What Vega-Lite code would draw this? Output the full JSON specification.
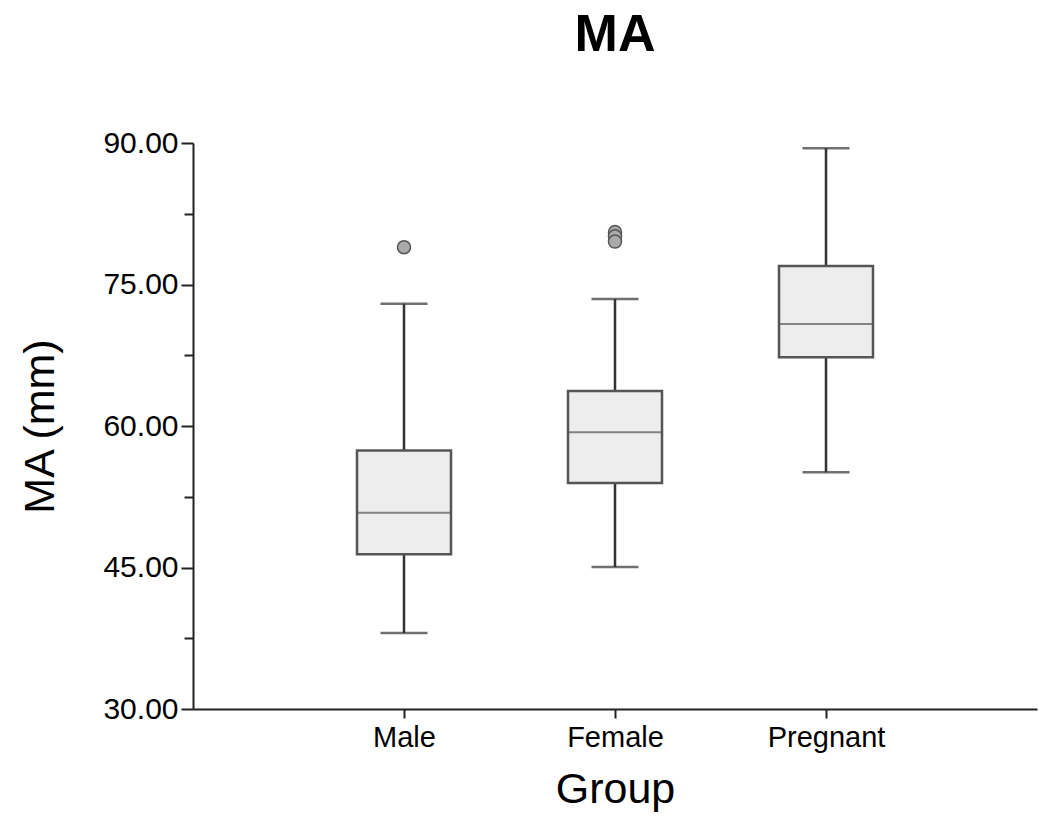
{
  "$schema": "https://vega.github.io/schema/vega-lite/v6.json",
  "autosize": {"type": "none"},
  "width": 844,
  "height": 566,
  "padding": {"left": 193, "top": 143, "right": 2, "bottom": 107},
  "background": "white",
  "config": {
    "view": {"stroke": null},
    "font": "Liberation Sans"
  },
  "title": {
    "text": "MA",
    "fontSize": 52,
    "fontWeight": "bold",
    "font": "Liberation Sans",
    "color": "black",
    "anchor": "middle",
    "offset": 66
  },
  "datasets": {
    "boxes": [
      {"group": "Male", "min": 38.05, "q1": 46.4, "median": 50.8, "q3": 57.4, "max": 72.95},
      {"group": "Female", "min": 45.05, "q1": 53.95, "median": 59.35, "q3": 63.7, "max": 73.45},
      {"group": "Pregnant", "min": 55.1, "q1": 67.3, "median": 70.8, "q3": 76.95, "max": 89.45}
    ],
    "outliers": [
      {"group": "Male", "value": 78.95},
      {"group": "Female", "value": 80.55},
      {"group": "Female", "value": 80.1},
      {"group": "Female", "value": 79.55}
    ]
  },
  "data": {"name": "boxes"},
  "encoding": {
    "x": {
      "field": "group",
      "type": "nominal",
      "sort": ["Male", "Female", "Pregnant"],
      "scale": {"type": "point", "domain": ["Male", "Female", "Pregnant"], "padding": 1},
      "axis": {
        "title": "Group",
        "titleFontSize": 43,
        "titleFont": "Liberation Sans",
        "titleFontWeight": "normal",
        "titleColor": "black",
        "titlePadding": 16,
        "labelAngle": 0,
        "labelFontSize": 29,
        "labelColor": "black",
        "labelPadding": 5,
        "tickSize": 9,
        "tickWidth": 2,
        "tickColor": "#222",
        "domainColor": "#222",
        "domainWidth": 2,
        "grid": false
      }
    }
  },
  "layer": [
    {
      "mark": {"type": "rule", "color": "#333", "strokeWidth": 2.5},
      "encoding": {
        "y": {
          "field": "min",
          "type": "quantitative",
          "scale": {"domain": [30, 90], "nice": false, "zero": false},
          "axis": {
            "title": "MA (mm)",
            "titleFontSize": 43,
            "titleFont": "Liberation Sans",
            "titleFontWeight": "normal",
            "titleColor": "black",
            "titlePadding": 40,
            "values": [30, 37.5, 45, 52.5, 60, 67.5, 75, 82.5, 90],
            "labelExpr": "datum.value % 15 === 0 ? format(datum.value, '.2f') : ''",
            "labelFontSize": 30,
            "labelColor": "black",
            "labelPadding": 3,
            "tickSize": {"condition": {"test": "datum.value % 15 === 0", "value": 12}, "value": 9},
            "tickWidth": 2,
            "tickColor": "#222",
            "domainColor": "#222",
            "domainWidth": 2,
            "grid": false
          }
        },
        "y2": {"field": "max"}
      }
    },
    {
      "mark": {"type": "tick", "color": "#333", "thickness": 2.5, "size": 47},
      "encoding": {"y": {"field": "min", "type": "quantitative"}}
    },
    {
      "mark": {"type": "tick", "color": "#333", "thickness": 2.5, "size": 47},
      "encoding": {"y": {"field": "max", "type": "quantitative"}}
    },
    {
      "mark": {"type": "bar", "fill": "#ededed", "stroke": "#555", "strokeWidth": 2.5, "size": 94},
      "encoding": {
        "y": {"field": "q1", "type": "quantitative"},
        "y2": {"field": "q3"}
      }
    },
    {
      "mark": {"type": "tick", "color": "#555", "thickness": 2, "size": 94},
      "encoding": {"y": {"field": "median", "type": "quantitative"}}
    },
    {
      "data": {"name": "outliers"},
      "mark": {"type": "point", "filled": true, "fill": "#aaa", "stroke": "#555", "strokeWidth": 1.5, "size": 170, "opacity": 1},
      "encoding": {"y": {"field": "value", "type": "quantitative"}}
    }
  ]
}
